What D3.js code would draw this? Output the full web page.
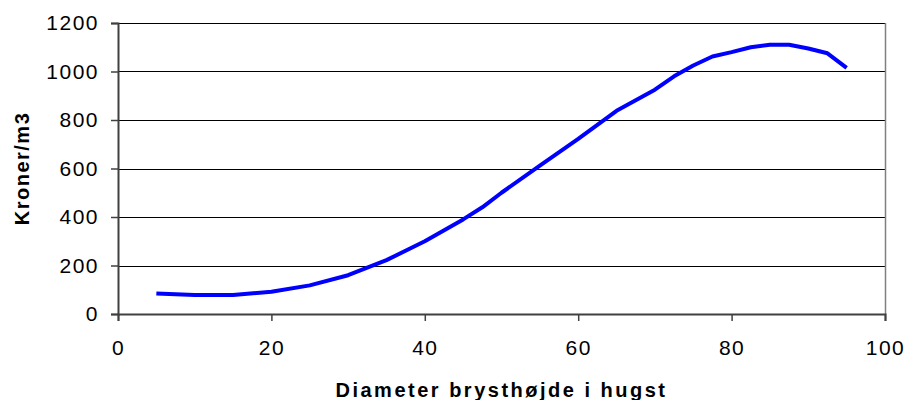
<!DOCTYPE html>
<html lang="da">
<head>
  <meta charset="UTF-8" />
  <title>Kroner/m3 efter diameter</title>
  <script src="https://d3js.org/d3.v7.min.js"></script>
  <style>
    body {
      margin: 0;
      background: #fff;
    }
    svg text {
      fill: #000;
      font-family: 'Liberation Sans', Arial, sans-serif;
    }
    .tick text {
      font-size: 21px;
      letter-spacing: 1.5px;
    }
    .title {
      font-size: 20px;
      font-weight: bold;
    }
  </style>
</head>
<body>
  <svg id="chart"></svg>

  <script>
    // diameter (cm) og pris (kr/m3)
    const diameters = [5, 10, 15, 20, 25, 30, 35, 40, 45, 47.5, 50, 55, 60, 65, 70, 72.5, 75, 77.5, 80, 82.5, 85, 87.5, 90, 92.5, 95];
    const prices = [85, 78, 78, 92, 118, 160, 222, 300, 390, 440, 500, 612, 722, 838, 925, 980, 1025, 1062, 1080, 1100, 1110, 1110, 1095, 1075, 1015];
    const xTicks = [0, 20, 40, 60, 80, 100];
    const yTicks = [0, 200, 400, 600, 800, 1000, 1200];

    const data = diameters.map((d, i) => ({ x: d, y: prices[i] }));

    const svg = d3.select("#chart")
      .attr("width", 906)
      .attr("height", 400);

    const margin = { top: 23, right: 21, bottom: 86, left: 118 };
    const width = +svg.attr("width") - margin.left - margin.right;
    const height = +svg.attr("height") - margin.top - margin.bottom;
    const g = svg.append("g").attr("transform", `translate(${margin.left},${margin.top})`);

    const x = d3.scaleLinear().domain([0, 100]).range([0, width]);
    const y = d3.scaleLinear().domain([0, 1200]).range([height, 0]);

    // gitterlinjer
    g.selectAll(".grid")
      .data(yTicks.filter(d => d > 0))
      .join("line")
      .attr("class", "grid")
      .attr("x1", 0)
      .attr("x2", width)
      .attr("y1", d => Math.round(y(d)) + 0.5)
      .attr("y2", d => Math.round(y(d)) + 0.5)
      .attr("stroke", "#000")
      .attr("stroke-width", 1);

    // højre kant
    g.append("line")
      .attr("x1", width + 0.5)
      .attr("x2", width + 0.5)
      .attr("y1", 0)
      .attr("y2", height)
      .attr("stroke", "#808080")
      .attr("stroke-width", 1.5);

    const yAxis = g.append("g")
      .call(d3.axisLeft(y).tickValues(yTicks).tickSize(7).tickPadding(12).tickFormat(d3.format("d")));

    const xAxis = g.append("g")
      .attr("transform", `translate(0,${height})`)
      .call(d3.axisBottom(x).tickValues(xTicks).tickSize(7).tickPadding(19).tickFormat(d3.format("d")));

    [yAxis, xAxis].forEach(ax => {
      ax.attr("font-size", null).attr("font-family", null);
      ax.select(".domain").attr("stroke", "#404040").attr("stroke-width", 2);
      ax.selectAll(".tick line").attr("stroke", "#404040").attr("stroke-width", 1.5);
    });

    const line = d3.line()
      .x(d => x(d.x))
      .y(d => y(d.y));

    g.append("path")
      .datum(data)
      .attr("fill", "none")
      .attr("stroke", "#0000ff")
      .attr("stroke-width", 4)
      .attr("stroke-linejoin", "round")
      .attr("d", line);

    svg.append("text")
      .attr("class", "title")
      .attr("x", margin.left + width / 2)
      .attr("y", 397)
      .attr("text-anchor", "middle")
      .style("letter-spacing", "2.5px")
      .text("Diameter brysthøjde i hugst");

    svg.append("text")
      .attr("class", "title")
      .attr("transform", `translate(29, ${margin.top + height / 2}) rotate(-90)`)
      .attr("text-anchor", "middle")
      .style("letter-spacing", "1.5px")
      .text("Kroner/m3");
  </script>
</body>
</html>
